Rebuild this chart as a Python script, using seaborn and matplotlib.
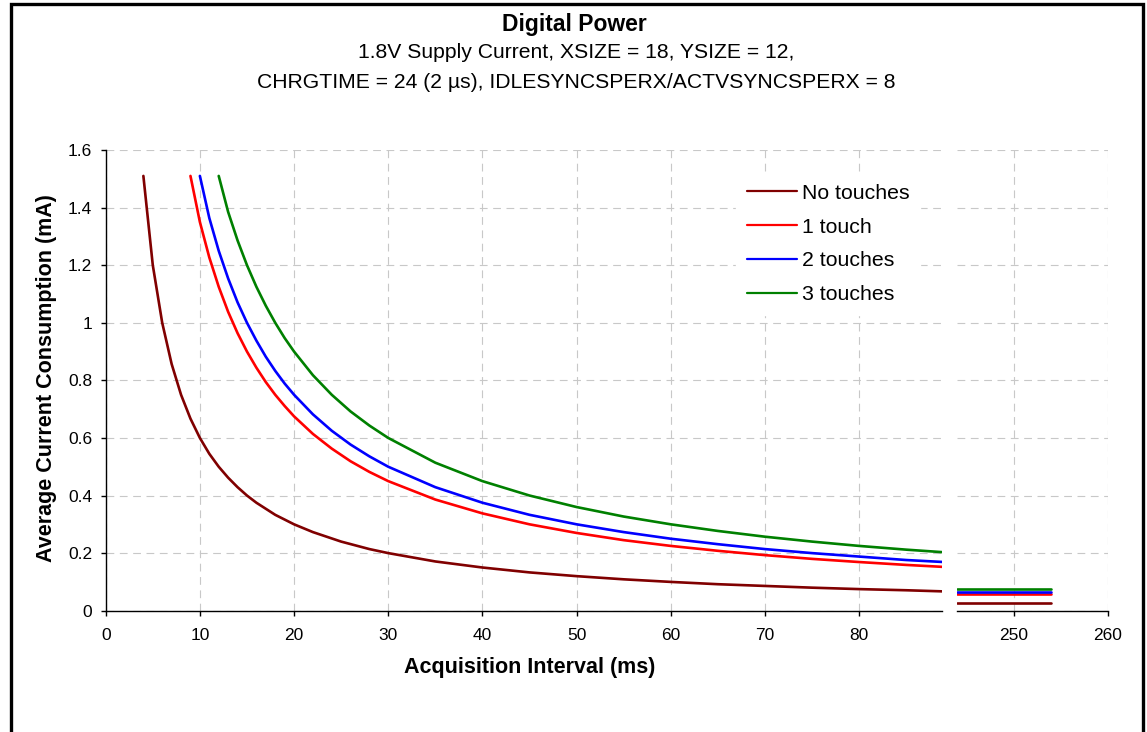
import numpy as np
import pandas as pd
import matplotlib
matplotlib.use("Agg")
import matplotlib.pyplot as plt
import seaborn as sns
from matplotlib.patches import Rectangle
from matplotlib.ticker import FuncFormatter

# ---------------- data ----------------
series_names = ["No touches", "1 touch", "2 touches", "3 touches"]
series_colors = ["#800000", "#FF0000", "#0000FF", "#008000"]

x_none = [4, 5, 6, 7, 8, 9, 10, 11, 12, 13, 14, 15, 16, 18, 20, 22, 25, 28, 30,
          35, 40, 45, 50, 55, 60, 65, 70, 75, 80, 85, 89]
y_none = [1.51, 1.2, 1.0, 0.857, 0.75, 0.667, 0.6, 0.545, 0.5, 0.462, 0.429, 0.4,
          0.375, 0.333, 0.3, 0.273, 0.24, 0.214, 0.2, 0.171, 0.15, 0.133, 0.12,
          0.109, 0.1, 0.092, 0.086, 0.08, 0.075, 0.071, 0.067]

x_one = [9, 10, 11, 12, 13, 14, 15, 16, 17, 18, 19, 20, 22, 24, 26, 28, 30, 35,
         40, 45, 50, 55, 60, 65, 70, 75, 80, 85, 89]
y_one = [1.51, 1.35, 1.227, 1.125, 1.038, 0.964, 0.9, 0.844, 0.794, 0.75, 0.711,
         0.675, 0.614, 0.563, 0.519, 0.482, 0.45, 0.386, 0.338, 0.3, 0.27, 0.245,
         0.225, 0.208, 0.193, 0.18, 0.169, 0.159, 0.152]

x_two = [10, 11, 12, 13, 14, 15, 16, 17, 18, 19, 20, 22, 24, 26, 28, 30, 35, 40,
         45, 50, 55, 60, 65, 70, 75, 80, 85, 89]
y_two = [1.51, 1.364, 1.25, 1.154, 1.071, 1.0, 0.938, 0.882, 0.833, 0.789, 0.75,
         0.682, 0.625, 0.577, 0.536, 0.5, 0.429, 0.375, 0.333, 0.3, 0.273, 0.25,
         0.231, 0.214, 0.2, 0.188, 0.176, 0.169]

x_three = [12, 13, 14, 15, 16, 17, 18, 19, 20, 22, 24, 26, 28, 30, 35, 40, 45,
           50, 55, 60, 65, 70, 75, 80, 85, 89]
y_three = [1.51, 1.385, 1.286, 1.2, 1.125, 1.059, 1.0, 0.947, 0.9, 0.818, 0.75,
           0.692, 0.643, 0.6, 0.514, 0.45, 0.4, 0.36, 0.327, 0.3, 0.277, 0.257,
           0.24, 0.225, 0.212, 0.203]

# long-interval segment (right part of the broken axis)
x_long = [244, 254]
y_long_none = [0.028, 0.028]
y_long_one = [0.058, 0.058]
y_long_two = [0.064, 0.064]
y_long_three = [0.075, 0.075]

x_ticks_main = [0, 10, 20, 30, 40, 50, 60, 70, 80]
x_ticks_long = [250, 260]
y_ticks = [0, 0.2, 0.4, 0.6, 0.8, 1.0, 1.2, 1.4, 1.6]

title = "Digital Power"
subtitle1 = "1.8V Supply Current, XSIZE = 18, YSIZE = 12,"
subtitle2 = "CHRGTIME = 24 (2 \u00b5s), IDLESYNCSPERX/ACTVSYNCSPERX = 8"
x_label = "Acquisition Interval (ms)"
y_label = "Average Current Consumption (mA)"

# ---------------- tables ----------------
main_df = pd.concat([
    pd.DataFrame({"series": n, "x": xs, "y": ys})
    for n, xs, ys in zip(series_names,
                         [x_none, x_one, x_two, x_three],
                         [y_none, y_one, y_two, y_three])
], ignore_index=True)
long_df = pd.concat([
    pd.DataFrame({"series": n, "x": x_long, "y": ys})
    for n, ys in zip(series_names,
                     [y_long_none, y_long_one, y_long_two, y_long_three])
], ignore_index=True)

palette = dict(zip(series_names, series_colors))

# ---------------- style ----------------
sns.set_style("white")
plt.rcParams["font.family"] = ["Liberation Sans", "DejaVu Sans"]
plt.rcParams["text.color"] = "black"
plt.rcParams["xtick.color"] = "black"
plt.rcParams["ytick.color"] = "black"

W, H = 1147, 732
fig = plt.figure(figsize=(W / 100, H / 100), dpi=100)

x0, x1 = 105.7, 942.0
x2, x3 = 957.0, 1108.0
ytop, ybot = 150.0, 610.7
ax1 = fig.add_axes([x0 / W, 1 - ybot / H, (x1 - x0) / W, (ybot - ytop) / H])
ax2 = fig.add_axes([x2 / W, 1 - ybot / H, (x3 - x2) / W, (ybot - ytop) / H])

grid_kw = dict(color="#c8c8c8", linestyle=(0, (7, 5)), linewidth=0.8)

sns.lineplot(data=main_df, x="x", y="y", hue="series", hue_order=series_names,
             palette=palette, sort=False, estimator=None, linewidth=1.9,
             ax=ax1, legend=True)
sns.lineplot(data=long_df, x="x", y="y", hue="series", hue_order=series_names,
             palette=palette, sort=False, estimator=None, linewidth=1.9,
             ax=ax2, legend=False)

fmt = FuncFormatter(lambda v, p: f"{v:g}")
for ax in (ax1, ax2):
    ax.set_ylim(0, 1.6)
    ax.set_yticks(y_ticks)
    ax.yaxis.set_major_formatter(fmt)
    ax.set_axisbelow(True)
    ax.grid(True, **grid_kw)
    ax.set_xlabel("")
    ax.set_ylabel("")
    for s in ("top", "right"):
        ax.spines[s].set_visible(False)
    ax.spines["bottom"].set_color("black")
    ax.spines["bottom"].set_linewidth(1.0)
    ax.tick_params(axis="x", direction="out", length=3.6, width=1.0, pad=8.5,
                   labelsize=12.5, colors="black", labelcolor="black",
                   bottom=True)

ax1.set_xlim(0, 88.8)
ax1.set_xticks(x_ticks_main)
ax1.spines["left"].set_color("black")
ax1.spines["left"].set_linewidth(1.0)
ax1.tick_params(axis="y", direction="out", length=3.6, width=1.0, pad=6,
                labelsize=12.5, colors="black", labelcolor="black", left=True)

ax2.set_xlim(244, 260)
ax2.set_xticks(x_ticks_long)
ax2.spines["left"].set_visible(False)
ax2.tick_params(axis="y", left=False, labelleft=False)

leg = ax1.legend(loc="upper left", bbox_to_anchor=(0.754, 0.950),
                 frameon=True, facecolor="white", edgecolor="white",
                 framealpha=1.0, fontsize=15.3, handlelength=2.35,
                 handletextpad=0.24, labelspacing=0.70, borderpad=0.5,
                 borderaxespad=0)
for line in leg.get_lines():
    line.set_linewidth(1.6)
for t in leg.get_texts():
    t.set_color("black")

# titles and axis labels
fig.text(574 / W, 1 - 31.5 / H, title, ha="center", va="baseline",
         fontsize=16.5, fontweight="bold")
fig.text(576 / W, 1 - 57.5 / H, subtitle1, ha="center", va="baseline",
         fontsize=15.2)
fig.text(576 / W, 1 - 87.5 / H, subtitle2, ha="center", va="baseline",
         fontsize=15.2)
fig.text(530 / W, 1 - 673 / H, x_label, ha="center", va="baseline",
         fontsize=15.5, fontweight="bold")
fig.text(47 / W, 1 - 378 / H, y_label, ha="center", va="center",
         rotation=90, fontsize=15.5, fontweight="bold")

# outer frame (bottom edge falls outside the picture)
fig.add_artist(Rectangle((10.5 / W, -0.05), (1143 - 10.5) / W, 1.05 - 4.5 / H,
                         transform=fig.transFigure, fill=False,
                         edgecolor="black", linewidth=2.4, clip_on=False))

fig.savefig("out.png", dpi=100, facecolor="white")
